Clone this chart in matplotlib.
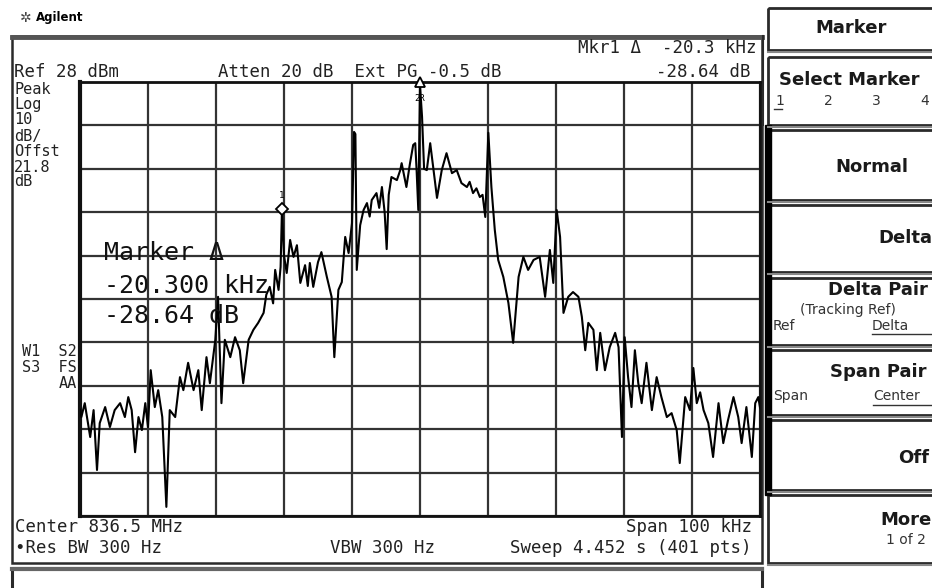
import numpy as np
import matplotlib.pyplot as plt
from matplotlib.patches import Rectangle

plt.rcParams['font.family'] = ['DejaVu Sans Mono', 'DejaVu Sans']

# trace: offset from center (kHz), level (dBm)
freq_khz = [
    -50.0, -49.8, -49.3, -48.5, -48.0, -47.5, -47.1, -46.3, -45.6, -44.9,
    -44.1, -43.4, -42.9, -42.4, -41.9, -41.4, -40.9, -40.4, -40.0, -39.6,
    -39.0, -38.5, -37.9, -37.3, -36.8, -36.0, -35.3, -34.8, -34.1, -33.3,
    -32.6, -32.1, -31.4, -30.9, -30.1, -29.7, -29.2, -28.7, -27.9, -27.2,
    -26.5, -26.0, -25.2, -24.5, -23.8, -23.0, -22.6, -22.1, -21.6, -21.3,
    -20.8, -20.5, -20.3, -20.0, -19.6, -19.1, -18.6, -18.1, -17.6, -16.9,
    -16.5, -16.2, -15.7, -15.0, -14.5, -13.7, -13.0, -12.6, -12.0, -11.5,
    -11.0, -10.5, -10.0, -9.7, -9.5, -9.3, -8.8, -8.3, -7.8, -7.4,
    -7.1, -6.4, -6.0, -5.6, -5.2, -4.9, -4.6, -4.2, -3.4, -2.9,
    -2.7, -2.0, -1.5, -1.0, -0.7, -0.5, -0.25, 0.0, 0.3, 0.6,
    1.0, 1.5, 2.0, 2.5, 3.2, 3.9, 4.7, 5.4, 6.1, 6.9,
    7.3, 7.8, 8.3, 8.8, 9.2, 9.6, 10.05, 10.5, 11.0, 11.5,
    12.25, 13.0, 13.7, 14.5, 15.2, 15.9, 16.7, 17.6, 18.4, 19.1,
    19.6, 20.1, 20.6, 21.1, 21.8, 22.5, 23.3, 23.8, 24.3, 24.75,
    25.5, 26.0, 26.5, 27.2, 27.9, 28.7, 29.2, 29.7, 30.1, 30.6,
    31.1, 31.6, 32.1, 32.6, 33.3, 34.1, 34.8, 35.5, 36.3, 37.0,
    37.75, 38.2, 39.0, 39.7, 40.2, 40.7, 41.2, 41.7, 42.4, 43.1,
    43.9, 44.6, 45.3, 46.1, 46.8, 47.3, 48.0, 48.8, 49.3, 49.75,
    50.0,
]
level_dbm = [
    -47.5, -49.2, -46.0, -53.8, -47.6, -61.4, -50.6, -46.9, -51.5, -47.6,
    -46.0, -49.2, -44.6, -47.6, -57.3, -49.2, -52.2, -46.0, -51.5, -38.4,
    -46.9, -43.0, -49.2, -69.9, -47.6, -49.2, -40.0, -43.0, -36.7, -43.0,
    -38.4, -47.6, -35.4, -41.4, -31.4, -21.5, -46.0, -31.4, -35.4, -30.8,
    -33.8, -41.4, -31.4, -29.1, -27.5, -25.2, -21.0, -19.2, -23.0, -15.3,
    -19.9, -14.6, -1.3, -12.0, -16.0, -8.4, -12.3, -9.6, -18.3, -14.2,
    -19.0, -13.7, -19.2, -13.5, -11.2, -16.9, -21.5, -35.4, -19.9, -18.1,
    -7.7, -11.4, -4.5, 16.5, 16.0, -15.3, -5.0, -1.5, 0.1, -3.0,
    0.8, 2.4, -1.0, 3.8, -2.0, -10.5, 2.0, 6.1, 5.4, 7.7,
    9.3, 3.8, 9.0, 13.5, 13.9, 7.7, -1.5, 27.3, 20.0, 8.0,
    7.7, 13.9, 7.7, 1.3, 7.7, 11.6, 7.0, 7.7, 4.7, 3.8,
    5.0, 2.4, 3.5, 1.5, 2.0, -3.1, 16.3, 3.8, -6.1, -13.0,
    -16.9, -22.9, -32.1, -16.9, -12.3, -15.3, -13.0, -12.3, -21.5, -10.7,
    -18.3, -1.5, -7.7, -25.2, -21.5, -20.4, -21.5, -26.1, -33.8, -27.5,
    -29.1, -38.4, -29.8, -38.4, -33.1, -29.8, -33.1, -53.8, -30.8, -40.0,
    -46.9, -33.8, -41.4, -46.0, -36.7, -47.6, -40.0, -44.6, -49.2, -48.3,
    -52.2, -59.8, -44.6, -47.6, -37.9, -46.0, -43.5, -47.6, -50.6, -58.4,
    -46.0, -55.2, -49.9, -44.6, -49.2, -55.2, -46.9, -58.4, -46.0, -44.6,
    -47.0,
]

ref_dbm = 28
db_per_div = 10
n_div = 10
span_khz = 100
mkr1_khz = -20.3
mkr2_khz = 0.0

header_left = ["Peak", "Log", "10", "dB/", "Offst", "21.8", "dB"]
header_left_y = [89, 104, 120, 136, 151, 167, 182]
trace_flags = ["W1  S2", "S3  FS", "AA"]
trace_flags_y = [352, 368, 383]

W, H = 932, 588
fig = plt.figure(figsize=(W / 100, H / 100), dpi=100)
fig.patch.set_facecolor('white')

# pixel layer for the instrument frame, labels and softkeys
bg = fig.add_axes([0, 0, 1, 1])
bg.set_xlim(0, W)
bg.set_ylim(H, 0)
bg.axis('off')

edge = '#2a2a2a'
bg.add_patch(Rectangle((12, 36), 750, 527, fill=False, lw=1.8, ec=edge))
bg.plot([12, 762], [37, 37], color='#555555', lw=3.5)
bg.add_patch(Rectangle((12, 568), 750, 40, fill=False, lw=2.2, ec=edge))
bg.plot([12, 762], [569, 569], color='#666666', lw=3)

bg.text(20, 18, "✲", fontsize=10, color='#444444', va='center', family='DejaVu Sans')
bg.text(36, 18, "Agilent", fontsize=8.5, weight='bold', va='center', family='DejaVu Sans')

small = dict(fontsize=12.5, va='center', color='#222222')
col = dict(fontsize=11, va='center', color='#222222')
bg.text(14, 72, "Ref 28 dBm", **small)
bg.text(218, 72, "Atten 20 dB  Ext PG -0.5 dB", **small)
bg.text(757, 48, "Mkr1 Δ  -20.3 kHz", ha='right', **small)
bg.text(750, 72, "-28.64 dB", ha='right', **small)
for s, y in zip(header_left, header_left_y):
    bg.text(14, y, s, **col)
for s, y in zip(trace_flags, trace_flags_y):
    bg.text(77, y, s, ha='right', **col)
bg.text(15, 527, "Center 836.5 MHz", **small)
bg.text(752, 527, "Span 100 kHz", ha='right', **small)
bg.text(15, 548, "•Res BW 300 Hz", **small)
bg.text(330, 548, "VBW 300 Hz", **small)
bg.text(752, 548, "Sweep 4.452 s (401 pts)", ha='right', **small)

# softkey panel
keys = [(8, 50), (57, 125), (130, 200), (205, 272), (278, 345),
        (350, 415), (420, 490), (495, 563)]
for y0, y1 in keys:
    bg.add_patch(Rectangle((768, y0), 200, y1 - y0, fill=False, lw=2, ec=edge))
    bg.plot([768, 940], [y1 + 2, y1 + 2], color='#888888', lw=1.5)
bg.add_patch(Rectangle((765, 125), 6, 370, color='black'))
bg.plot([763, 763], [36, 125], color=edge, lw=1.5)

key = dict(family='DejaVu Sans', weight='bold', fontsize=13, va='center', color='#1a1a1a')
sub = dict(family='DejaVu Sans', fontsize=10, va='center', color='#333333')
bg.text(815, 28, "Marker", **key)
bg.text(779, 80, "Select Marker", **key)
for s, x in zip(["1", "2", "3", "4"], [775, 824, 872, 920]):
    bg.text(x, 101, s, **sub)
bg.plot([774, 782], [109, 109], color='#333333', lw=1)
bg.text(835, 167, "Normal", **key)
bg.text(878, 238, "Delta", **key)
bg.text(828, 290, "Delta Pair", **key)
bg.text(800, 310, "(Tracking Ref)", **sub)
bg.text(773, 326, "Ref", **sub)
bg.text(872, 326, "Delta", **sub)
bg.plot([872, 932], [334, 334], color='#333333', lw=1)
bg.text(830, 372, "Span Pair", **key)
bg.text(773, 396, "Span", **sub)
bg.text(873, 396, "Center", **sub)
bg.plot([873, 932], [405, 405], color='#333333', lw=1)
bg.text(898, 458, "Off", **key)
bg.text(880, 520, "More", **key)
bg.text(886, 540, "1 of 2", **sub)

# graticule and trace
ax = fig.add_axes([80 / W, 1 - 516 / H, 680 / W, 434 / H])
ax.set_xlim(-span_khz / 2, span_khz / 2)
ax.set_ylim(ref_dbm - n_div * db_per_div, ref_dbm)
ax.set_xticks(np.linspace(-span_khz / 2, span_khz / 2, n_div + 1))
ax.set_yticks(np.arange(ref_dbm - n_div * db_per_div, ref_dbm + 1, db_per_div))
ax.tick_params(length=0, labelbottom=False, labelleft=False)
ax.grid(True, color='#333333', lw=1.6)
for sp in ax.spines.values():
    sp.set_linewidth(2)
    sp.set_color('#111111')
ax.spines['left'].set_linewidth(3)

ax.plot(freq_khz, level_dbm, color='black', lw=1.5, zorder=3)

i1 = freq_khz.index(mkr1_khz)
i2 = freq_khz.index(mkr2_khz)
ax.plot(mkr1_khz, level_dbm[i1], marker='D', ms=6, mfc='white', mec='black', mew=1.3, zorder=4, clip_on=False)
ax.text(mkr1_khz, level_dbm[i1] + 3.2, "1", fontsize=6.5, ha='center', va='center', zorder=4)
ax.plot(mkr2_khz, level_dbm[i2] + 0.6, marker='^', ms=7, mfc='white', mec='black', mew=1.3, zorder=4, clip_on=False)
ax.text(mkr2_khz, level_dbm[i2] - 3.2, "2R", fontsize=6.5, ha='center', va='center', zorder=4)

big = dict(fontsize=18, va='center', color='#111111', zorder=5)
ax.text(-46.5, -11.5, "Marker Δ", **big)
ax.text(-46.5, -19.0, "-20.300 kHz", **big)
ax.text(-46.5, -26.0, "-28.64 dB", **big)

fig.savefig('out.png', dpi=100, facecolor='white')
